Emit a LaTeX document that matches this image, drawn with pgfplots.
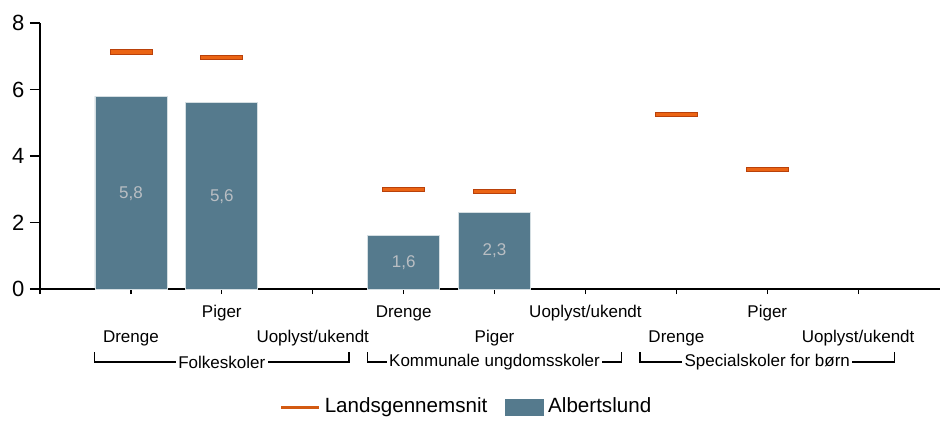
\documentclass[border=0pt]{standalone}
\usepackage{pgfplots}
\pgfplotsset{compat=1.18}
\usepackage{fontspec}
\setmainfont{Liberation Sans}
\definecolor{barcol}{RGB}{85,122,141}
\definecolor{mkfill}{RGB}{235,100,20}
\definecolor{mkdraw}{RGB}{185,65,10}
\definecolor{lblgray}{RGB}{185,190,195}
\pgfdeclareplotmark{hbar}{\pgfpathrectangle{\pgfqpoint{-10.5pt}{-1.1pt}}{\pgfqpoint{21pt}{2.2pt}}\pgfusepathqfillstroke}
\begin{document}
\begin{tikzpicture}
\begin{axis}[
 scale only axis, width=450pt, height=133pt,
 xmin=0, xmax=9.9, ymin=0, ymax=8,
 axis lines*=left,
 axis line style={line width=0.8pt},
 ytick={0,2,4,6,8},
 xtick={0,1,3,5,7,9},
 xticklabels={,Drenge,Uoplyst/ukendt,Piger,Drenge,Uoplyst/ukendt},
 extra x ticks={2,4,6,8},
 extra x tick labels={Piger,Drenge,Uoplyst/ukendt,Piger},
 extra x tick style={xticklabel style={yshift=12.5pt}},
 xticklabel style={anchor=center, yshift=-20.5pt, font=\fontsize{8.5}{10}\selectfont, text height=6.2pt, text depth=1.8pt},
 yticklabel style={font=\fontsize{11}{13}\selectfont},
 /pgf/number format/assume math mode=true,
 tick align=outside,
 tick style={black, line width=0.6pt},
 xtick style={/pgfplots/major tick length=2.5pt},
 ytick style={/pgfplots/major tick length=5pt},
 clip=false,
 legend style={at={(0.475,0)}, anchor=center, yshift=-59pt, draw=none, legend columns=2,
   font=\fontsize{10.3}{12}\selectfont, /tikz/every even column/.append style={column sep=7pt}},
 legend cell align=left,
]
\addplot[only marks, mark=hbar, mark options={fill=mkfill, draw=mkdraw, line width=0.4pt},
  legend image code/.code={\draw[mkfill!90!black, line width=1.5pt] (0pt,0pt) -- (19pt,0pt);}]
  coordinates {(1,7.13) (2,6.97) (4,3.0) (5,2.94) (7,5.25) (8,3.6)};
\addlegendentry{Landsgennemsnit}
\addplot[ybar, bar width=36pt, fill=barcol, draw=white!75!barcol, line width=0.4pt,
  legend image code/.code={\fill[barcol] (0pt,-4pt) rectangle (19pt,4pt);}]
  coordinates {(1,5.8) (2,5.6) (4,1.6) (5,2.3)};
\addlegendentry{Albertslund}
\addplot[draw=none, forget plot, nodes near coords, point meta=explicit symbolic,
  every node near coord/.append style={anchor=center, text=lblgray, font=\fontsize{8.5}{10}\selectfont}]
  coordinates {(1,2.86) [5,8] (2,2.77) [5,6] (4,0.78) [1,6] (5,1.15) [2,3]};
% group brackets
\draw[line width=0.6pt] ([yshift=-31.5pt]axis cs:0.6,0) -- ([yshift=-36.5pt]axis cs:0.6,0) -- ([yshift=-36.5pt]axis cs:3.4,0) -- ([yshift=-31.5pt]axis cs:3.4,0);
\node[fill=white, inner sep=1.2pt, font=\fontsize{8.5}{10}\selectfont] at ([yshift=-36.5pt]axis cs:2,0) {Folkeskoler};
\draw[line width=0.6pt] ([yshift=-31.5pt]axis cs:3.6,0) -- ([yshift=-36.5pt]axis cs:3.6,0) -- ([yshift=-36.5pt]axis cs:6.4,0) -- ([yshift=-31.5pt]axis cs:6.4,0);
\node[fill=white, inner sep=1.2pt, font=\fontsize{8.5}{10}\selectfont] at ([yshift=-36.5pt]axis cs:5,0) {Kommunale ungdomsskoler};
\draw[line width=0.6pt] ([yshift=-31.5pt]axis cs:6.6,0) -- ([yshift=-36.5pt]axis cs:6.6,0) -- ([yshift=-36.5pt]axis cs:9.4,0) -- ([yshift=-31.5pt]axis cs:9.4,0);
\node[fill=white, inner sep=1.2pt, font=\fontsize{8.5}{10}\selectfont] at ([yshift=-36.5pt]axis cs:8,0) {Specialskoler for børn};
\path ([xshift=-20pt,yshift=-65pt]rel axis cs:0,0) rectangle ([xshift=450.5pt,yshift=144.5pt]rel axis cs:0,0);
\end{axis}
\end{tikzpicture}
\end{document}
